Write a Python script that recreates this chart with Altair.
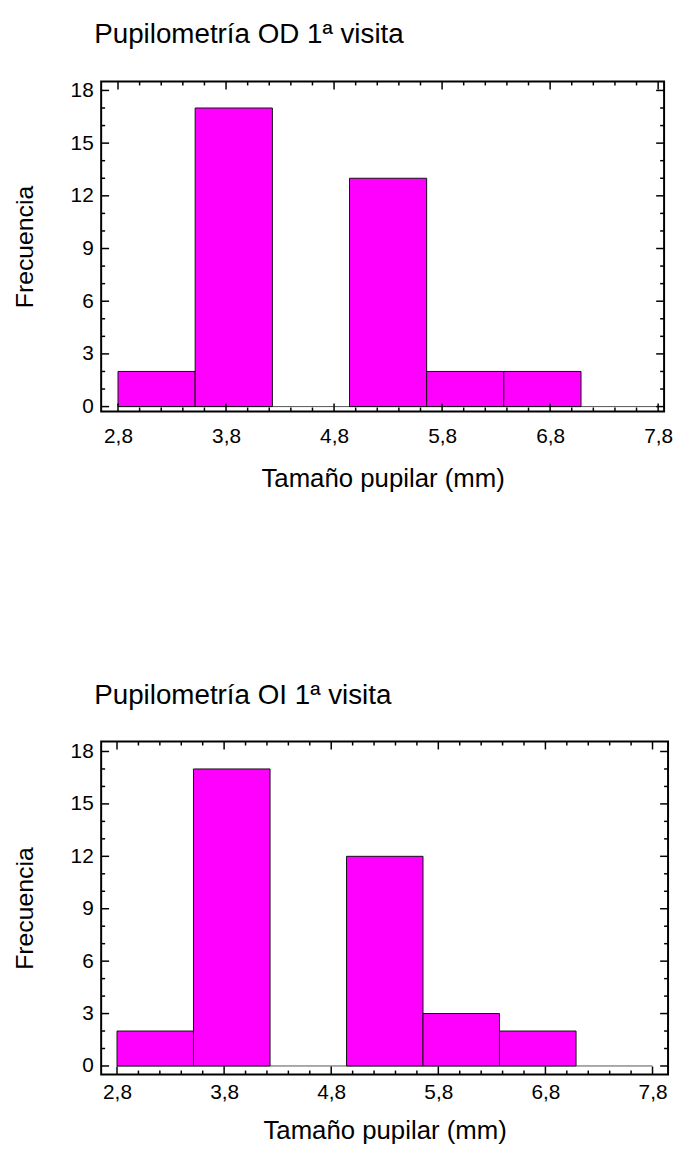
import altair as alt
import pandas as pd

# ---- data ----
bin_edges = [2.8, 3.514, 4.229, 4.943, 5.657, 6.371, 7.086, 7.8]
counts_od = [2, 17, 0, 13, 2, 2, 0]
counts_oi = [2, 17, 0, 12, 3, 2, 0]
titles = ["Pupilometría OD 1ª visita", "Pupilometría OI 1ª visita"]
x_title = "Tamaño pupilar (mm)"
y_title = "Frecuencia"
x_major = [2.8, 3.8, 4.8, 5.8, 6.8, 7.8]
x_minor = [3.0, 3.2, 3.4, 3.6, 4.0, 4.2, 4.4, 4.6, 5.0, 5.2, 5.4, 5.6,
           6.0, 6.2, 6.4, 6.6, 7.0, 7.2, 7.4, 7.6]
y_major = [0, 3, 6, 9, 12, 15, 18]
y_minor = [1, 2, 4, 5, 7, 8, 10, 11, 13, 14, 16, 17]

FONT = "Liberation Sans"
MAJ, MIN = 8, 4


def panel(counts, title, W, H, xdom, ydom, title_offset, lab_pad, xt_pad):
    xs = alt.Scale(domain=xdom, nice=False, zero=False)
    ys = alt.Scale(domain=ydom, nice=False, zero=False)
    xax = alt.Axis(
        values=x_major, ticks=False, domain=False, grid=False,
        labelExpr="replace(format(datum.value, '.1f'), '.', ',')",
        labelFontSize=21, labelFont=FONT, labelColor="black",
        labelPadding=lab_pad, labelFlush=False, labelOverlap=False,
        title=x_title, titleFontSize=26, titleFont=FONT,
        titleFontWeight="normal", titleColor="black", titlePadding=xt_pad)
    yax = alt.Axis(
        values=y_major, ticks=False, domain=False, grid=False,
        labelFontSize=21, labelFont=FONT, labelColor="black",
        labelPadding=8, labelOverlap=False,
        title=y_title, titleFontSize=25, titleFont=FONT,
        titleFontWeight="normal", titleColor="black", titlePadding=33)

    bars_df = pd.DataFrame({"x0": bin_edges[:-1], "x1": bin_edges[1:], "n": counts})
    base_df = pd.DataFrame({"x0": [bin_edges[0]], "x1": [bin_edges[-1]], "y": [0]})
    xmaj_df = pd.DataFrame({"v": x_major})
    xmin_df = pd.DataFrame({"v": x_minor})
    ymaj_df = pd.DataFrame({"v": y_major})
    ymin_df = pd.DataFrame({"v": y_minor})

    bars = alt.Chart(bars_df).transform_filter("datum.n > 0").mark_rect(
        fill="#FF00FF", stroke="#111111", strokeWidth=1
    ).encode(
        x=alt.X("x0:Q", scale=xs, axis=xax, title=x_title),
        x2="x1",
        y=alt.Y("n:Q", scale=ys, axis=yax, title=y_title),
        y2=alt.datum(0),
    )

    baseline = alt.Chart(base_df).mark_rule(color="#555555", strokeWidth=1).encode(
        x=alt.X("x0:Q", scale=xs, axis=xax, title=x_title), x2="x1",
        y=alt.Y("y:Q", scale=ys, axis=yax, title=y_title))

    def xt(df, size, top):
        if top:
            yy, yy2 = alt.value(0), alt.value(size)
        else:
            yy, yy2 = alt.value(H), alt.value(H - size)
        return alt.Chart(df).mark_rule(color="black", strokeWidth=1.5).encode(
            x=alt.X("v:Q", scale=xs, axis=xax, title=x_title), y=yy, y2=yy2)

    def yt(df, size, right):
        if right:
            xx, xx2 = alt.value(W), alt.value(W - size)
        else:
            xx, xx2 = alt.value(0), alt.value(size)
        return alt.Chart(df).mark_rule(color="black", strokeWidth=1.5).encode(
            y=alt.Y("v:Q", scale=ys, axis=yax, title=y_title), x=xx, x2=xx2)

    ticks = [xt(xmaj_df, MAJ, False), xt(xmin_df, MIN, False),
             xt(xmaj_df, MAJ, True), xt(xmin_df, MIN, True),
             yt(ymaj_df, MAJ, False), yt(ymin_df, MIN, False),
             yt(ymaj_df, MAJ, True), yt(ymin_df, MIN, True)]

    return alt.layer(baseline, bars, *ticks).properties(
        width=W, height=H,
        view=alt.ViewBackground(stroke="black", strokeWidth=2),
        title=alt.Title(title, anchor="start", frame="group", fontSize=28,
                        font=FONT, fontWeight="normal", color="black", dx=-7,
                        offset=title_offset),
    )


top = panel(counts_od, titles[0], 568, 333, [2.644, 7.855], [-0.28, 18.51],
            31, 14, 20)
bottom = panel(counts_oi, titles[1], 572, 336, [2.652, 7.945], [-0.49, 18.57],
               31, 7, 16)

chart = alt.vconcat(top, bottom, spacing=190).properties(
    padding={"left": 3, "top": 7, "right": 0, "bottom": 0}
).configure_view(stroke="black", strokeWidth=2).configure(background="white")

chart.save("out.html", embed_options={"renderer": "svg", "actions": False})
